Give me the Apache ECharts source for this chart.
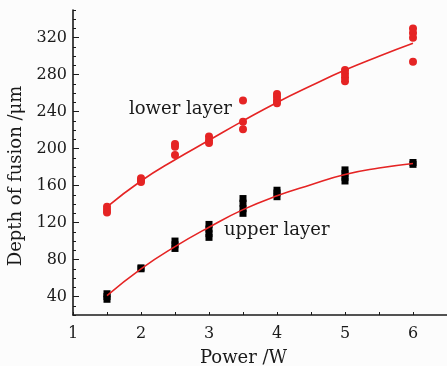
<!DOCTYPE html>
<html>
<head>
<meta charset="utf-8">
<script src="https://cdn.jsdelivr.net/npm/echarts@6/dist/echarts.min.js"></script>
<style>
  html, body { margin: 0; padding: 0; background: #fcfcfc; }
  #chart { width: 447px; height: 366px; }
</style>
</head>
<body>
<div id="chart"></div>
<script>
// Laser power levels (W) at which the depth was measured
const powerLevels = [1.5, 2, 2.5, 3, 3.5, 4, 5, 6];

// Measured depth of fusion (µm) for each power level
const lowerDepth = [
  [137, 134, 131],
  [168, 166, 164],
  [205, 202, 193],
  [213, 209, 206],
  [252, 229, 221],
  [259, 256, 252, 249],
  [285, 281, 277, 273],
  [330, 325, 320, 294]
];
const upperDepth = [
  [43, 40, 37],
  [71, 70],
  [100, 96, 92],
  [118, 113, 108, 104],
  [146, 141, 135, 130],
  [155, 152, 148],
  [177, 173, 169, 165],
  [185, 183]
];

// Fitted trend curves sampled along the power axis
const fitPower = [1.5, 2, 2.5, 3, 3.5, 4, 4.5, 5, 5.5, 6];
const lowerFit = [137, 165, 188, 209, 230, 250, 268, 285, 300, 314];
const upperFit = [41, 70, 94, 115, 134, 149, 161, 172, 179, 184];

// Axis tick labels
const xTickLabels = [1, 2, 3, 4, 5, 6];
const yTickLabels = [40, 80, 120, 160, 200, 240, 280, 320];

function toPoints(levels, groups) {
  const pts = [];
  levels.forEach((p, i) => groups[i].forEach(v => pts.push([p, v])));
  return pts;
}
function zip(xs, ys) { return xs.map((x, i) => [x, ys[i]]); }

const FONT = 'DejaVu Serif';
const INK = '#1a1a1a';
const RED = '#e52424';

const chart = echarts.init(document.getElementById('chart'), null, { renderer: 'canvas' });

const yBase = {
  type: 'value',
  min: 20,
  max: 350,
  interval: 10,
  position: 'left',
  splitLine: { show: false }
};

chart.setOption({
  backgroundColor: '#fcfcfc',
  animation: false,
  grid: { left: 73, right: 0, top: 10, bottom: 51, containLabel: false, outerBoundsMode: 'none' },
  xAxis: {
    type: 'value',
    min: 1,
    max: 6.5,
    interval: 0.5,
    name: 'Power /W',
    nameLocation: 'middle',
    nameGap: 34,
    nameTextStyle: { fontFamily: FONT, fontSize: 18, color: INK, padding: [0, 33, 0, 0] },
    axisLine: { lineStyle: { color: INK, width: 1.6 } },
    axisTick: { inside: true, length: 3, lineStyle: { color: INK, width: 1 } },
    axisLabel: {
      customValues: xTickLabels,
      fontFamily: FONT, fontSize: 16, color: INK, margin: 11
    },
    splitLine: { show: false }
  },
  yAxis: [
    Object.assign({}, yBase, {
      name: 'Depth of fusion /μm',
      nameLocation: 'middle',
      nameGap: 47,
      nameRotate: 90,
      nameTextStyle: { fontFamily: FONT, fontSize: 18, color: INK, padding: [0, 27, 0, 0] },
      axisLine: { show: true, lineStyle: { color: INK, width: 1.6 } },
      axisTick: { inside: true, length: 3, lineStyle: { color: INK, width: 1 } },
      axisLabel: {
        customValues: yTickLabels,
        fontFamily: FONT, fontSize: 16, color: INK, margin: 6
      }
    }),
    Object.assign({}, yBase, {
      axisLine: { show: false },
      axisTick: {
        inside: true, length: 6,
        customValues: yTickLabels,
        lineStyle: { color: INK, width: 1 }
      },
      axisLabel: { show: false }
    })
  ],
  series: [
    {
      name: 'lower layer fit',
      type: 'line',
      data: zip(fitPower, lowerFit),
      smooth: true,
      showSymbol: false,
      lineStyle: { color: RED, width: 1.6 },
      z: 3
    },
    {
      name: 'upper layer fit',
      type: 'line',
      data: zip(fitPower, upperFit),
      smooth: true,
      showSymbol: false,
      lineStyle: { color: RED, width: 1.6 },
      z: 3
    },
    {
      name: 'lower layer',
      type: 'scatter',
      data: toPoints(powerLevels, lowerDepth),
      symbol: 'circle',
      symbolSize: 8,
      itemStyle: { color: RED, opacity: 1 },
      z: 2
    },
    {
      name: 'upper layer',
      type: 'scatter',
      data: toPoints(powerLevels, upperDepth),
      symbol: 'rect',
      symbolSize: [7, 7],
      itemStyle: { color: '#000', opacity: 1 },
      z: 2
    }
  ],
  graphic: [
    {
      type: 'text', left: 129, top: 100,
      style: { text: 'lower layer', font: '18px "DejaVu Serif"', fill: INK }
    },
    {
      type: 'text', left: 224, top: 221,
      style: { text: 'upper layer', font: '18px "DejaVu Serif"', fill: INK }
    }
  ]
});
</script>
</body>
</html>
